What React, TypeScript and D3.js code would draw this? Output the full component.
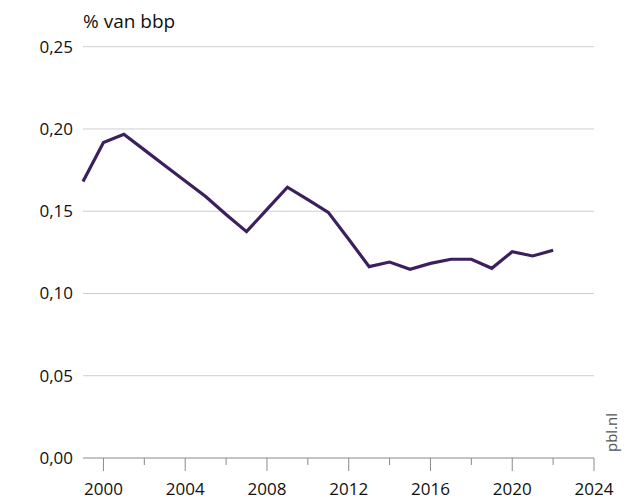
import { useEffect, useRef } from "react";
import * as d3 from "d3";

const years = [1999, 2000, 2001, 2002, 2003, 2004, 2005, 2006, 2007, 2008, 2009, 2010, 2011, 2012, 2013, 2014, 2015, 2016, 2017, 2018, 2019, 2020, 2021, 2022];
const values = [0.168, 0.1917, 0.1968, 0.1873, 0.1778, 0.1684, 0.1589, 0.148, 0.1376, 0.1511, 0.1646, 0.157, 0.1493, 0.133, 0.1163, 0.1191, 0.1147, 0.1183, 0.1208, 0.1208, 0.1153, 0.1254, 0.1228, 0.1263];
const yTicks = [0, 0.05, 0.1, 0.15, 0.2, 0.25];
const xMajor = [2000, 2004, 2008, 2012, 2016, 2020, 2024];
const xMinor = [2002, 2006, 2010, 2014, 2018, 2022];

export default function App() {
  const ref = useRef<SVGSVGElement>(null);

  useEffect(() => {
    const svg = d3.select(ref.current);
    svg.selectAll("*").remove();

    const font = "'Open Sans', sans-serif";

    const x = d3.scaleLinear().domain([1999, 2024]).range([83, 594]);
    const y = d3.scaleLinear().domain([0, 0.25]).range([458, 46.7]);
    const fmt = (v: number) => d3.format(".2f")(v).replace(".", ",");

    // grid + y labels
    svg.append("g")
      .selectAll("line")
      .data(yTicks.filter(d => d > 0))
      .join("line")
      .attr("x1", 83)
      .attr("x2", 594)
      .attr("y1", d => y(d))
      .attr("y2", d => y(d))
      .attr("stroke", "#cfcfcf")
      .attr("stroke-width", 1);

    svg.append("g")
      .selectAll("text")
      .data(yTicks)
      .join("text")
      .attr("x", 73)
      .attr("y", d => y(d))
      .attr("dy", "0.35em")
      .attr("text-anchor", "end")
      .attr("font-family", font)
      .attr("font-size", 17)
      .attr("fill", "#111")
      .text(d => fmt(d));

    // x axis
    svg.append("line")
      .attr("x1", 83)
      .attr("x2", 594)
      .attr("y1", 458)
      .attr("y2", 458)
      .attr("stroke", "#8a8a8a")
      .attr("stroke-width", 1.2);

    svg.append("g")
      .selectAll("line")
      .data(xMajor)
      .join("line")
      .attr("x1", d => x(d))
      .attr("x2", d => x(d))
      .attr("y1", 458)
      .attr("y2", 471)
      .attr("stroke", "#8a8a8a");

    svg.append("g")
      .selectAll("line")
      .data(xMinor)
      .join("line")
      .attr("x1", d => x(d))
      .attr("x2", d => x(d))
      .attr("y1", 458)
      .attr("y2", 465)
      .attr("stroke", "#8a8a8a");

    svg.append("g")
      .selectAll("text")
      .data(xMajor)
      .join("text")
      .attr("x", d => x(d))
      .attr("y", 495)
      .attr("text-anchor", "middle")
      .attr("font-family", font)
      .attr("font-size", 17)
      .attr("fill", "#111")
      .text(d => d);

    // line
    const line = d3.line<number>()
      .x((_, i) => x(years[i]))
      .y(d => y(d));

    svg.append("path")
      .datum(values)
      .attr("d", line)
      .attr("fill", "none")
      .attr("stroke", "#3b1f5e")
      .attr("stroke-width", 3.2)
      .attr("stroke-linejoin", "miter");

    // title
    svg.append("text")
      .attr("x", 83)
      .attr("y", 28)
      .attr("font-family", font)
      .attr("font-size", 19)
      .attr("fill", "#111")
      .text("% van bbp");

    // source
    svg.append("text")
      .attr("transform", "translate(617,452) rotate(-90)")
      .attr("font-family", font)
      .attr("font-size", 15)
      .attr("fill", "#555")
      .text("pbl.nl");
  }, []);

  return (
    <svg ref={ref} width={638} height={502} style={{ position: "absolute", left: 0, top: 0 }} />
  );
}
